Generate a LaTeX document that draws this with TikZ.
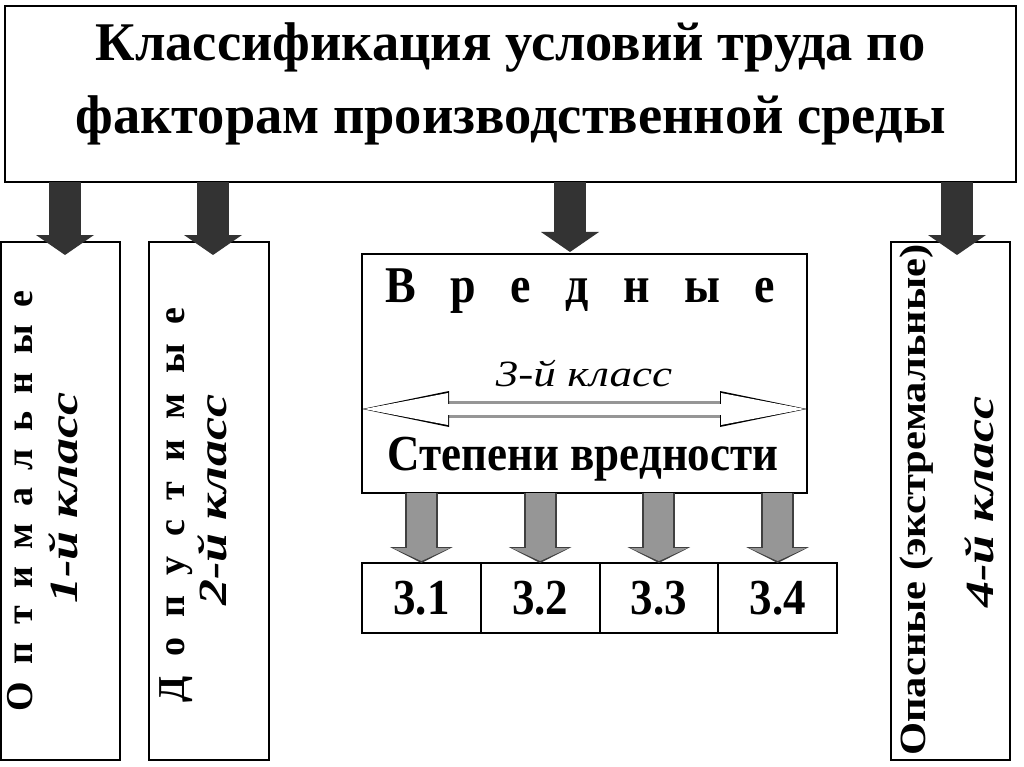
\documentclass[tikz,border=0pt]{standalone}
\usepackage{fontspec}
\setmainfont{Liberation Serif}
\usetikzlibrary{arrows.meta,positioning}
\definecolor{kdark}{RGB}{51,51,51}
\definecolor{kgray}{RGB}{150,150,150}
\newcommand{\tall}[1]{\scalebox{1}[1.12]{#1}}
\newcommand{\wide}[2]{\scalebox{#1}[1]{#2}}

\begin{document}
\begin{tikzpicture}[
    x=1pt,y=-1pt,
    kbox/.style={draw,line width=2pt,inner sep=0pt,outer sep=0pt},
    cell/.style={kbox,minimum width=118.75pt,minimum height=70pt,font=\fontsize{45}{45}\selectfont\bfseries},
    vtext/.style={rotate=90,anchor=base,inner sep=0pt,font=\fontsize{38}{38}\selectfont\bfseries},
    vclass/.style={vtext,font=\fontsize{40}{40}\selectfont\bfseries\itshape},
    ctext/.style={anchor=base,inner sep=0pt},
    bigarrow/.style={line width=32pt,kdark,-{Triangle[length=20pt,width=58pt,line width'=0pt]}},
    grayrim/.style={line width=33pt,black!75,-{Triangle[length=16pt,width=63pt,line width'=0pt]}},
    grayfill/.style={line width=29pt,kgray,-{Triangle[length=13pt,width=57pt,line width'=0pt]},shorten >=2pt},
    dblrim/.style={line width=17pt,kgray,{Triangle[length=87pt,width=36pt,line width'=0pt,color=black]}-{Triangle[length=87pt,width=36pt,line width'=0pt,color=black]}},
    dblfill/.style={line width=11pt,white,{Triangle[length=84pt,width=32pt,line width'=0pt]}-{Triangle[length=84pt,width=32pt,line width'=0pt]},shorten <=2pt,shorten >=2pt}
  ]
    \useasboundingbox (0,0) rectangle (1024,767);
    \node[kbox,minimum width=1011pt,minimum height=176pt] (title) at (510.5,94) {};
    \node[align=center,inner sep=0pt,font=\fontsize{54.5}{73}\selectfont\bfseries] (titletext) at (510.5,83.7) {Классификация условий труда по\\факторам производственной среды};
    \node[kbox,minimum width=119pt,minimum height=518pt] (opt) at (60.5,501) {};
    \node[kbox,minimum width=120pt,minimum height=518pt] (dop) at (209,501) {};
    \node[kbox,minimum width=119pt,minimum height=518pt] (opas) at (950.5,501) {};
    \node[kbox,minimum width=445pt,minimum height=239pt] (vred) at (584.5,373.5) {};
    \node[cell] (c1) at (421.4,598) {\tall{3.1}};
    \node[cell,right=0pt of c1] (c2) {\tall{3.2}};
    \node[cell,right=0pt of c2] (c3) {\tall{3.3}};
    \node[cell,right=0pt of c3] (c4) {\tall{3.4}};

    \node[ctext,font=\fontsize{46}{46}\selectfont\bfseries] (vredname) at (580,302) {\tall{\makebox[390pt][s]{В\hfill р\hfill е\hfill д\hfill н\hfill ы\hfill е}}};
    \node[ctext,font=\fontsize{37}{37}\selectfont\itshape] (klass3) at (584,386) {\wide{1.22}{3-й класс}};
    \node[ctext,font=\fontsize{45}{45}\selectfont\bfseries] (stepeni) at (583,470) {\tall{Степени вредности}};

    \node[vtext] (optname) at (32,501) {\makebox[420pt][s]{О\hfill п\hfill т\hfill и\hfill м\hfill а\hfill л\hfill ь\hfill н\hfill ы\hfill е}};
    \node[vclass] (optclass) at (77,498) {\wide{1.3}{1-й класс}};
    \node[vtext] (dopname) at (184,505) {\makebox[395pt][s]{Д\hfill о\hfill п\hfill у\hfill с\hfill т\hfill и\hfill м\hfill ы\hfill е}};
    \node[vclass] (dopclass) at (226,500) {\wide{1.3}{2-й класс}};
    \node[vtext,font=\fontsize{37}{37}\selectfont\bfseries] (opasname) at (925,500) {\wide{1.15}{Опасные (экстремальные)}};
    \node[vclass] (opasclass) at (993,502) {\wide{1.3}{4-й класс}};

    \draw[bigarrow,shorten >=-13pt] ([xshift=4.5pt]opt.north |- title.south) -- ([xshift=4.5pt]opt.north);
    \draw[bigarrow,shorten >=-13pt] ([xshift=4pt]dop.north |- title.south) -- ([xshift=4pt]dop.north);
    \draw[bigarrow,shorten >=2pt] ([xshift=-14.5pt]vred.north |- title.south) -- ([xshift=-14.5pt]vred.north);
    \draw[bigarrow,shorten >=-13pt] ([xshift=6.5pt]opas.north |- title.south) -- ([xshift=6.5pt]opas.north);

    \draw[dblrim] ([yshift=-35.5pt]vred.west) -- ([yshift=-35.5pt]vred.east);
    \draw[dblfill] ([yshift=-35.5pt]vred.west) -- ([yshift=-35.5pt]vred.east);

    \draw[grayrim] (c1 |- vred.south) -- (c1.north);
    \draw[grayfill] (c1 |- vred.south) -- (c1.north);
    \draw[grayrim] (c2 |- vred.south) -- (c2.north);
    \draw[grayfill] (c2 |- vred.south) -- (c2.north);
    \draw[grayrim] (c3 |- vred.south) -- (c3.north);
    \draw[grayfill] (c3 |- vred.south) -- (c3.north);
    \draw[grayrim] (c4 |- vred.south) -- (c4.north);
    \draw[grayfill] (c4 |- vred.south) -- (c4.north);
  \end{tikzpicture}
\end{document}
